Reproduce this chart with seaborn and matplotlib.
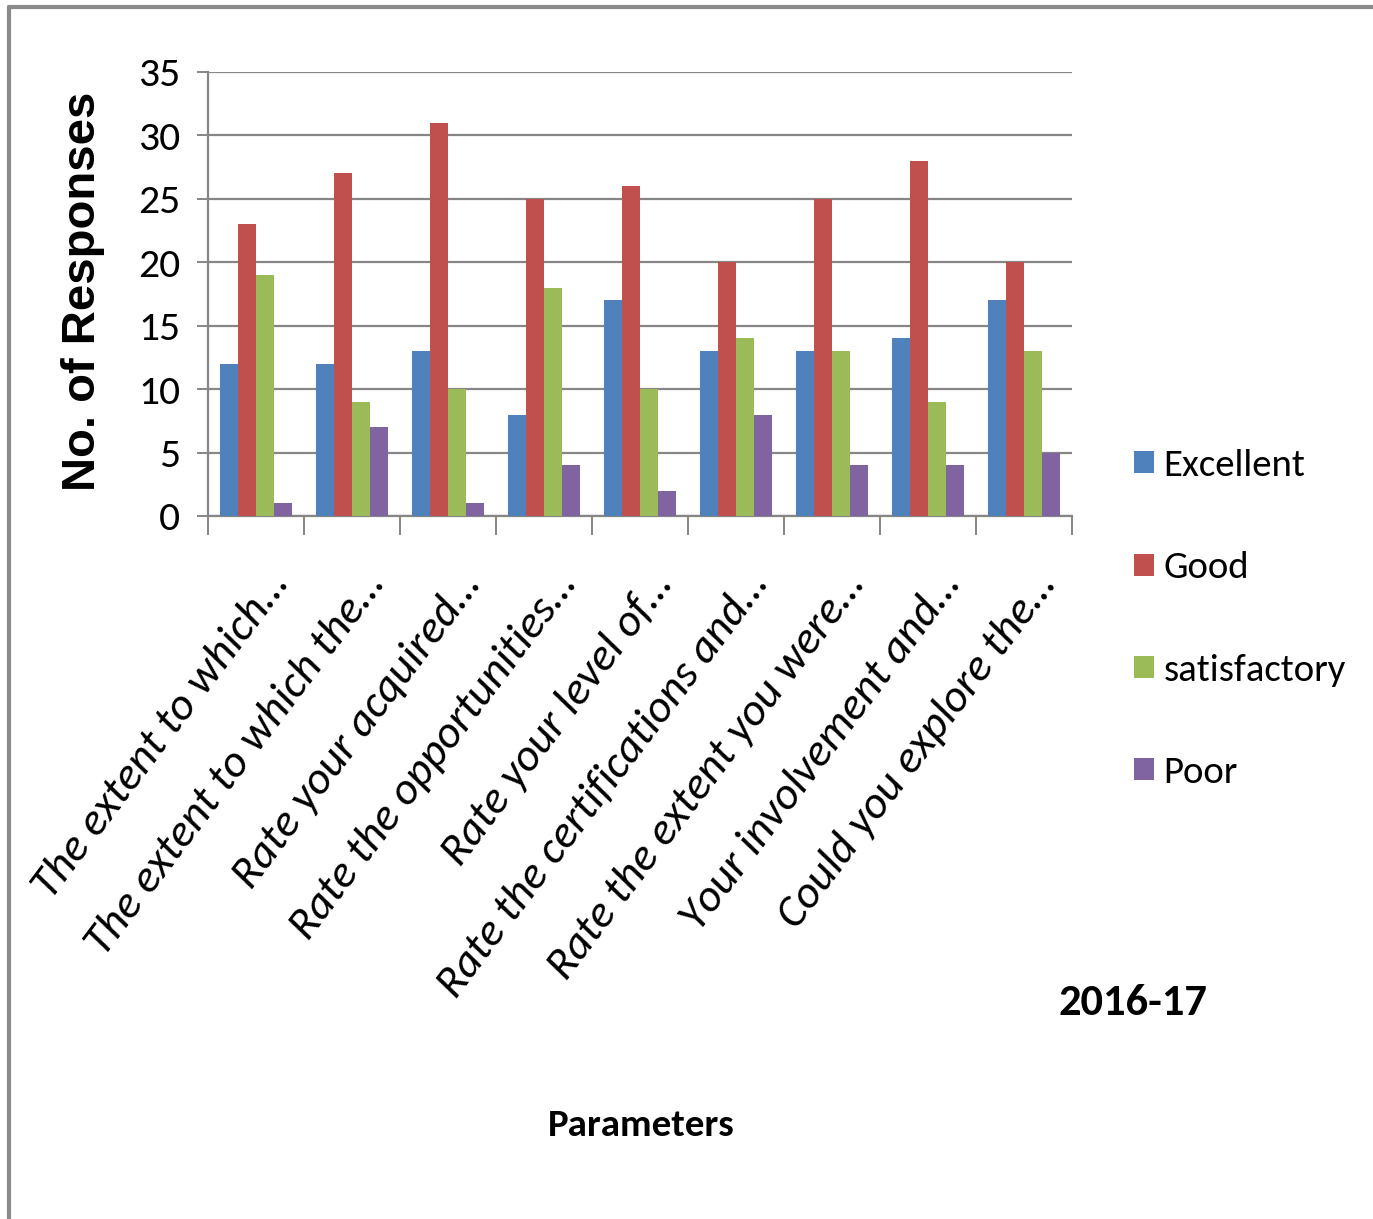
import matplotlib
matplotlib.use('Agg')
import matplotlib.pyplot as plt
import matplotlib.transforms as mtransforms
from matplotlib.lines import Line2D
from matplotlib.ticker import FixedLocator
import seaborn as sns
import pandas as pd

# Data
parameters = [
    'The extent to which…',
    'The extent to which the…',
    'Rate your acquired…',
    'Rate the opportunities…',
    'Rate your level of…',
    'Rate the certifications and…',
    'Rate the extent you were…',
    'Your involvement and…',
    'Could you explore the…',
]
ratings = ['Excellent', 'Good', 'satisfactory', 'Poor']
excellent = [12, 12, 13, 8, 17, 13, 13, 14, 17]
good = [23, 27, 31, 25, 26, 20, 25, 28, 20]
satisfactory = [19, 9, 10, 18, 10, 14, 13, 9, 13]
poor = [1, 7, 1, 4, 2, 8, 4, 4, 5]
colors = ['#4F81BD', '#C0504D', '#9BBB59', '#8064A2']

rows = []
for name, vals in zip(ratings, [excellent, good, satisfactory, poor]):
    for p, v in zip(parameters, vals):
        rows.append({'Parameter': p, 'Rating': name, 'Responses': v})
df = pd.DataFrame(rows)

sns.set_theme(style='white')
plt.rcParams['font.family'] = ['Carlito', 'DejaVu Sans']
plt.rcParams['text.color'] = 'black'
plt.rcParams['xtick.labelcolor'] = 'black'
plt.rcParams['ytick.labelcolor'] = 'black'

W, H = 1373, 1219
fig = plt.figure(figsize=(W / 100, H / 100), dpi=100)
ax = fig.add_axes([208 / W, 1 - 516 / H, (1072 - 208) / W, (516 - 72) / H])

sns.barplot(data=df, x='Parameter', y='Responses', hue='Rating', palette=colors,
            width=0.75, linewidth=0, saturation=1, ax=ax, zorder=3)

gray = '#868686'
ax.set_ylim(0, 35)
ax.set_xlim(-0.5, len(parameters) - 0.5)
ax.set_yticks(range(0, 36, 5))
ax.yaxis.grid(True, color=gray, linewidth=1.6, zorder=0)
ax.set_axisbelow(True)
for s in ['top', 'right']:
    ax.spines[s].set_visible(False)
for s in ['left', 'bottom']:
    ax.spines[s].set_color(gray)
    ax.spines[s].set_linewidth(1.6)

ax.tick_params(axis='y', length=8, width=1.4, color=gray, labelsize=30, pad=12, left=True)
ax.xaxis.set_minor_locator(FixedLocator([i - 0.5 for i in range(len(parameters) + 1)]))
ax.tick_params(axis='x', which='minor', length=14, width=1.4, color=gray, bottom=True)
ax.tick_params(axis='x', which='major', length=0, pad=44)
ax.set_xticks(range(len(parameters)))
ax.set_xticklabels(parameters, rotation=53, ha='right', va='center',
                   rotation_mode='anchor', fontsize=33, style='italic')
offset = mtransforms.ScaledTranslation(0.24, 0, fig.dpi_scale_trans)
for lab in ax.get_xticklabels():
    lab.set_transform(lab.get_transform() + offset)

ax.set_xlabel('')
ax.set_ylabel('')
fig.text(83 / W, 1 - 291 / H, 'No. of Responses', rotation=90, ha='center', va='center',
         fontsize=34, fontweight='bold', family=['Liberation Sans', 'DejaVu Sans'])
fig.text(641 / W, 1 - 1125 / H, 'Parameters', ha='center', va='center',
         fontsize=28, fontweight='bold')
fig.text(1133 / W, 1 - 1003 / H, '2016-17', ha='center', va='center',
         fontsize=32, fontweight='bold')

handles, labels = ax.get_legend_handles_labels()
ax.get_legend().remove()
fig.legend(handles, labels, loc='center left', bbox_to_anchor=(1115 / W, 1 - 619 / H),
           frameon=False, fontsize=28, handlelength=0.5, handleheight=0.5,
           handletextpad=0.25, labelspacing=1.78, borderpad=0)

# outer frame (left and top edges visible)
fig.add_artist(Line2D([9 / W, 9 / W], [0, 1 - 7 / H], color='#8a8a8a', linewidth=3,
                      transform=fig.transFigure))
fig.add_artist(Line2D([9 / W, 1], [1 - 7 / H, 1 - 7 / H], color='#8a8a8a', linewidth=3,
                      transform=fig.transFigure))

fig.savefig('out.png', dpi=100)
